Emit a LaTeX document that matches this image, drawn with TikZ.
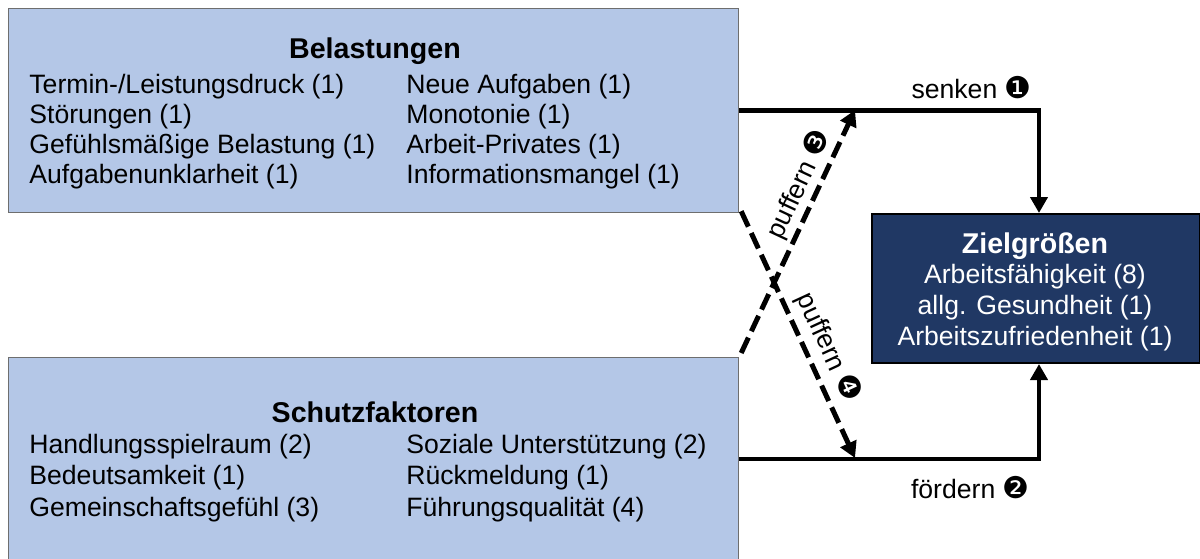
\documentclass[tikz,border=0pt]{standalone}
\usepackage{fontspec}
\setmainfont{Liberation Sans}
\newfontfamily\dv{DejaVu Sans}
\usetikzlibrary{arrows.meta}
\definecolor{lightblue}{HTML}{B4C7E7}
\definecolor{navy}{HTML}{203864}
\definecolor{boxborder}{HTML}{6E6E6E}
\tikzset{
  lbox/.style={draw=boxborder, fill=lightblue, line width=0.6pt, inner sep=0, anchor=north west},
  zbox/.style={draw=black, fill=navy, line width=1pt, inner sep=0, anchor=north west},
  item/.style={font=\fontsize{13.3}{15}\selectfont, inner sep=0, anchor=base west},
  zitem/.style={font=\fontsize{13.3}{15}\selectfont, inner sep=0, anchor=base, text=white},
  head/.style={font=\bfseries\fontsize{14.3}{17}\selectfont, inner sep=0, anchor=base},
  lbl/.style={font=\fontsize{13.3}{15}\selectfont, inner sep=0},
  conn/.style={line width=2.2pt, -{Triangle[width=8.5pt,length=8pt]}},
  dconn/.style={conn, line width=2.5pt, dash pattern=on 8.5pt off 3.5pt},
}
\newcommand{\cn}[1]{{\dv\fontsize{15}{15}\selectfont #1}}
\begin{document}
\begin{tikzpicture}[x=0.5pt,y=-0.5pt]
\useasboundingbox (0,0) rectangle (1200,558);
% boxes
\node[lbox, minimum width=365pt, minimum height=102pt] (bel) at (8,8) {};
\node[lbox, minimum width=365pt, minimum height=101.5pt] (schutz) at (8,357) {};
\node[zbox, minimum width=164pt, minimum height=74.5pt] (ziel) at (871,213) {};
% Belastungen text
\node[head] (belh) at (375,58) {Belastungen};
\foreach \t [count=\i from 0] in {Termin-/Leistungsdruck (1),Störungen (1),Gefühlsmäßige Belastung (1),Aufgabenunklarheit (1)}
  \node[item] (bl\i) at (29,{93+30*\i}) {\t};
\foreach \t [count=\i from 0] in {Neue Aufgaben (1),Monotonie (1),Arbeit-Privates (1),Informationsmangel (1)}
  \node[item] (br\i) at (406,{93+30*\i}) {\t};
% Schutzfaktoren text
\node[head] (schh) at (375,422) {Schutzfaktoren};
\foreach \t [count=\i from 0] in {Handlungsspielraum (2),Bedeutsamkeit (1),Gemeinschaftsgefühl (3)}
  \node[item] (sl\i) at (29,{453+31.5*\i}) {\t};
\foreach \t [count=\i from 0] in {Soziale Unterstützung (2),Rückmeldung (1),Führungsqualität (4)}
  \node[item] (sr\i) at (406,{453+31.5*\i}) {\t};
% Zielgroessen text
\node[head, text=white] (zielh) at (1035,253) {Zielgrößen};
\foreach \t [count=\i from 0] in {Arbeitsfähigkeit (8),allg. Gesundheit (1),Arbeitszufriedenheit (1)}
  \node[zitem] (zl\i) at (1035,{283+31*\i}) {\t};
% connectors
\coordinate (p3) at (855,110);
\coordinate (p4) at (855,458);
\draw[conn] (bel.east) -| ([xshift=1.5pt]ziel.north);
\draw[conn] (schutz.east) -| ([xshift=1.5pt]ziel.south);
\draw[dconn] ([shift={(1pt,2pt)}]schutz.north east) -- node[lbl, sloped, pos=0.66, above=1.5pt] (l3) {puffern \cn{❸}} (p3);
\draw[dconn] ([shift={(1pt,1pt)}]bel.south east) -- node[lbl, sloped, pos=0.59, above=3pt] (l4) {puffern \cn{❹}} (p4);
\node[lbl, anchor=east] (l1) at (1032,88) {senken \cn{❶}};
\node[lbl, anchor=east] (l2) at (1030,488) {fördern \cn{❷}};
\end{tikzpicture}
\end{document}
